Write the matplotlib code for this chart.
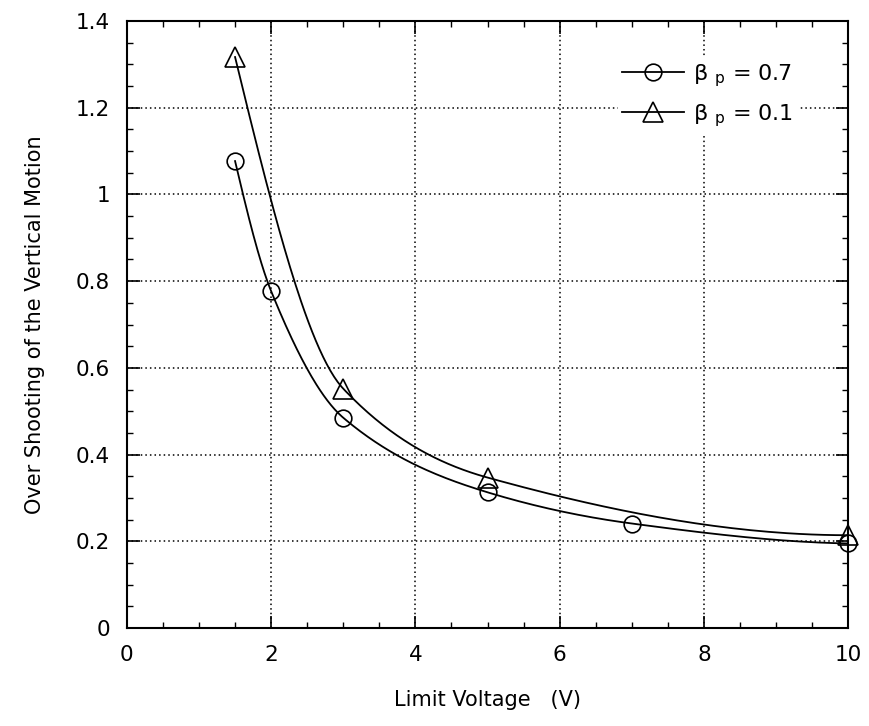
import matplotlib
matplotlib.use("Agg")
import matplotlib.pyplot as plt
import numpy as np
from matplotlib.lines import Line2D

# data
volt_07 = [1.5, 2, 3, 5, 7, 10]
over_07 = [1.077, 0.777, 0.485, 0.313, 0.241, 0.195]
volt_01 = [1.5, 3, 5, 10]
over_01 = [1.317, 0.552, 0.347, 0.214]
labels = ["β $_{\\mathrm{p}}$ = 0.7", "β $_{\\mathrm{p}}$ = 0.1"]
x_ticks = [0, 2, 4, 6, 8, 10]
y_ticks = [0, 0.2, 0.4, 0.6, 0.8, 1.0, 1.2, 1.4]
y_ticklabels = ["0", "0.2", "0.4", "0.6", "0.8", "1", "1.2", "1.4"]


def smooth_curve(x, y, n=60):
    # monotone cubic Hermite (Fritsch-Carlson) through the measured points
    x = np.asarray(x, float)
    y = np.asarray(y, float)
    h = np.diff(x)
    d = np.diff(y) / h
    m = np.zeros_like(y)
    for k in range(1, len(x) - 1):
        w1 = 2 * h[k] + h[k - 1]
        w2 = h[k] + 2 * h[k - 1]
        m[k] = (w1 + w2) / (w1 / d[k - 1] + w2 / d[k])
    for i, j in [(0, 1), (-1, -2)]:
        end = ((2 * h[i] + h[j]) * d[i] - h[i] * d[j]) / (h[i] + h[j])
        if np.sign(end) != np.sign(d[i]):
            end = 0.0
        elif abs(end) > 3 * abs(d[i]):
            end = 3 * d[i]
        m[i] = end
    xs, ys = [], []
    for k in range(len(h)):
        t = np.linspace(0, 1, n)
        h00 = 2 * t**3 - 3 * t**2 + 1
        h10 = t**3 - 2 * t**2 + t
        h01 = -2 * t**3 + 3 * t**2
        h11 = t**3 - t**2
        xs.append(x[k] + t * h[k])
        ys.append(h00 * y[k] + h10 * h[k] * m[k] + h01 * y[k + 1] + h11 * h[k] * m[k + 1])
    return np.concatenate(xs), np.concatenate(ys)


plt.rcParams["font.family"] = "DejaVu Sans"
fig = plt.figure(figsize=(8.69, 7.26), dpi=100)
ax = fig.add_axes([0.146, 0.135, 0.83, 0.836])

for x, y, m, ms in [(volt_07, over_07, "o", 12), (volt_01, over_01, "^", 15)]:
    xs, ys = smooth_curve(x, y)
    ax.plot(xs, ys, color="black", linewidth=1.3, zorder=3)
    ax.plot(x, y, linestyle="none", marker=m, markersize=ms, markerfacecolor="none",
            markeredgecolor="black", markeredgewidth=1.2, zorder=4, clip_on=False)

ax.set_xlim(0, 10)
ax.set_ylim(0, 1.4)
ax.set_xticks(x_ticks)
ax.set_xticklabels([str(v) for v in x_ticks])
ax.set_xticks(np.arange(0, 10.01, 0.5), minor=True)
ax.set_yticks(y_ticks)
ax.set_yticklabels(y_ticklabels)
ax.set_yticks(np.arange(0, 1.401, 0.05), minor=True)
ax.tick_params(which="both", direction="in", top=True, right=True, labelsize=15.5, pad=12)
ax.tick_params(which="major", length=9, width=1.2)
ax.tick_params(which="minor", length=4, width=1.0)
ax.grid(True, which="major", color="black", linestyle=(0, (1, 2)), linewidth=1.1)
for s in ax.spines.values():
    s.set_linewidth(1.5)

ax.set_xlabel("Limit Voltage   (V)", fontsize=15, labelpad=18)
ax.set_ylabel("Over Shooting of the Vertical Motion", fontsize=15, labelpad=22)

handles = [
    Line2D([], [], color="black", linewidth=1.3, marker="o", markersize=12,
           markerfacecolor="none", markeredgewidth=1.2),
    Line2D([], [], color="black", linewidth=1.3, marker="^", markersize=15,
           markerfacecolor="none", markeredgewidth=1.2),
]
leg = ax.legend(handles, labels, loc="upper right", bbox_to_anchor=(0.93, 0.94),
                fontsize=16, frameon=True, facecolor="white", edgecolor="white",
                framealpha=1, handlelength=2.8, handletextpad=0.4,
                labelspacing=0.6, borderaxespad=0.0, borderpad=0.2)
leg.set_zorder(5)

fig.savefig("out.png", dpi=100)
